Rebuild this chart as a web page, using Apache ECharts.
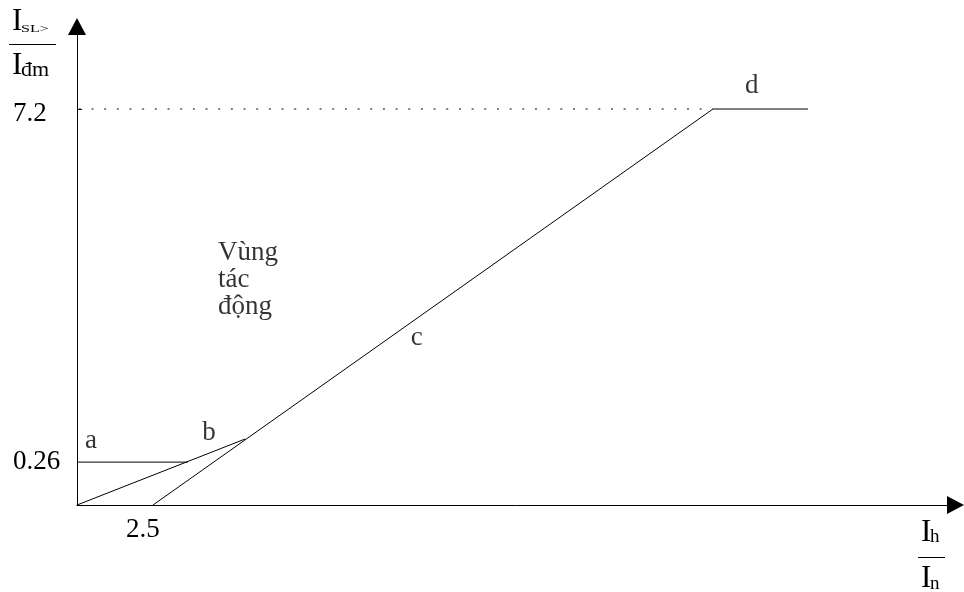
<!DOCTYPE html>
<html>
<head>
<meta charset="utf-8">
<script src="https://cdn.jsdelivr.net/npm/echarts@6/dist/echarts.min.js"></script>
<style>
  html, body { margin: 0; background: #fff; }
  #chart { width: 964px; height: 592px; }
</style>
</head>
<body>
<div id="chart"></div>
<script>
// sketch is not to scale: y is in drawing units (7.2 true, the 0.26 level is drawn higher)
const xMax = 28.9
const yMax = 8.7
const xTickValues = [2.5]
const xTickLabels = ['2.5']
const yTickValues = [0.78, 7.2]
const yTickLabels = ['0.26', '7.2']

const lineA = [[0, 0.78], [3.65, 0.78]]
const lineOB = [[0, 0], [5.53, 1.2]]
const lineCD = [[2.5, 0], [20.92, 7.2], [24.05, 7.2]]
const guide72 = [[0, 7.2], [20.92, 7.2]]

const noteNames = ['a', 'b', 'c', 'd', 'Vùng\ntác\nđộng']
const noteX = [0.46, 4.34, 11.18, 22.2, 4.64]
const noteY = [1.16, 1.31, 3.04, 7.62, 4.1]

const serif = "'Liberation Serif', 'Times New Roman', serif"
const chart = echarts.init(document.getElementById('chart'))

const plainLine = (data, extra) => ({
  type: 'line',
  data: data,
  symbol: 'none',
  silent: true,
  lineStyle: Object.assign({ color: '#000', width: 1 }, extra || {})
})

const notes = noteNames.map((n, i) => ({
  name: n,
  value: [noteX[i], noteY[i]],
  label: { align: i === 4 ? 'left' : 'center' }
}))

// fraction-style axis names, drawn as text pieces
const txt = (x, y, text, size, extra) => Object.assign({
  type: 'text',
  x: x,
  y: y,
  style: {
    text: text,
    font: size + 'px ' + serif,
    fill: '#000',
    textVerticalAlign: 'middle'
  }
}, extra || {})

const bar = (x1, x2, y) => ({
  type: 'line',
  shape: { x1: x1, y1: y, x2: x2, y2: y },
  style: { stroke: '#000', lineWidth: 1 }
})

const option = {
  animation: false,
  backgroundColor: '#fff',
  grid: {
    left: 77,
    right: 8.5,
    top: 26.5,
    bottom: 87,
    containLabel: false,
    outerBoundsMode: 'none'
  },
  xAxis: {
    type: 'value',
    min: 0,
    max: xMax,
    splitLine: { show: false },
    axisLine: {
      show: true,
      symbol: ['none', 'triangle'],
      symbolSize: [18, 17],
      lineStyle: { color: '#000', width: 1 }
    },
    axisTick: { show: false },
    axisLabel: {
      customValues: xTickValues,
      formatter: v => xTickLabels[xTickValues.indexOf(v)],
      color: '#000',
      fontFamily: serif,
      fontSize: 27,
      margin: 25,
      verticalAlign: 'middle',
      padding: [0, 20, 0, 0]
    }
  },
  yAxis: {
    type: 'value',
    min: 0,
    max: yMax,
    splitLine: { show: false },
    axisLine: {
      show: true,
      symbol: ['none', 'triangle'],
      symbolSize: [18, 17],
      lineStyle: { color: '#000', width: 1 }
    },
    axisTick: {
      show: true,
      customValues: [7.2],
      inside: true,
      length: 5,
      lineStyle: { color: '#000', width: 1 }
    },
    axisLabel: {
      customValues: yTickValues,
      formatter: v => {
        const t = yTickLabels[yTickValues.indexOf(v)]
        return v === 7.2 ? '{lo|' + t + '}' : t
      },
      color: '#000',
      fontFamily: serif,
      fontSize: 27,
      align: 'left',
      margin: 64,
      rich: {
        lo: { fontFamily: serif, fontSize: 27, color: '#000', padding: [10, 0, 0, 0] }
      }
    }
  },
  series: [
    plainLine(guide72, { type: [2, 10.67], dashOffset: 10.84 }),
    plainLine(lineA),
    plainLine(lineOB),
    plainLine(lineCD),
    {
      type: 'scatter',
      data: notes,
      symbolSize: 0,
      silent: true,
      label: {
        show: true,
        formatter: '{b}',
        position: [0, 0],
        verticalAlign: 'middle',
        color: '#000',
        fontFamily: serif,
        fontSize: 27,
        lineHeight: 27
      }
    }
  ],
  graphic: [
    txt(12, 22, 'I', 31),
    txt(21, 29.5, 'SL>', 10, { scaleX: 1.6 }),
    bar(9, 56, 44.5),
    txt(12, 66, 'I', 31),
    txt(21, 70, 'đm', 22),
    txt(921, 532.5, 'I', 31),
    txt(930, 537, 'h', 19),
    bar(918, 945, 557.5),
    txt(921, 579, 'I', 31),
    txt(930, 584, 'n', 19)
  ]
}

chart.setOption(option)
</script>
</body>
</html>
